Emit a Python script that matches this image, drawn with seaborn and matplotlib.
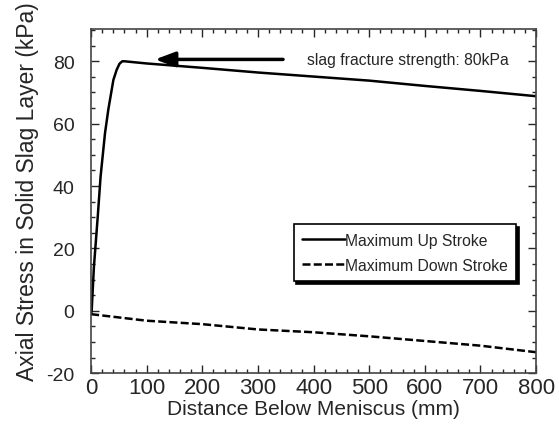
import matplotlib
matplotlib.use("Agg")
import matplotlib.pyplot as plt
from matplotlib.ticker import MultipleLocator
import seaborn as sns
import pandas as pd

# Maximum up stroke (kPa vs mm below meniscus)
up_x = [0, 1, 5, 12, 17, 25, 31, 40, 46, 51, 56, 60, 100, 200, 300, 400, 500, 600, 700, 800]
up_y = [-1.0, 0.0, 14, 30.4, 43, 57, 64.6, 74, 77.3, 79.2, 80, 80, 79.3, 77.9, 76.4, 75.1, 73.8, 72.1, 70.5, 68.8]

# Maximum down stroke
down_x = [0, 100, 200, 300, 400, 500, 600, 700, 800]
down_y = [-1.1, -3.2, -4.3, -6.0, -6.9, -8.2, -9.7, -11.2, -13.3]

df = pd.concat([
    pd.DataFrame({"x": up_x, "y": up_y, "series": "Maximum Up Stroke"}),
    pd.DataFrame({"x": down_x, "y": down_y, "series": "Maximum Down Stroke"}),
])

sns.set_style("ticks")
plt.rcParams["font.family"] = ["Liberation Sans", "DejaVu Sans"]
plt.rcParams["axes.unicode_minus"] = False

fig = plt.figure(figsize=(5.59, 4.31), dpi=100)
ax = fig.add_axes([0.163, 0.132, 0.796, 0.798])

sns.lineplot(data=df, x="x", y="y", style="series", color="black",
             dashes={"Maximum Up Stroke": "", "Maximum Down Stroke": (3.2, 1.3)},
             linewidth=1.8, sort=False, estimator=None, ax=ax)

ax.set_xlim(0, 800)
ax.set_ylim(-20, 90.3)
ax.xaxis.set_major_locator(MultipleLocator(100))
ax.xaxis.set_minor_locator(MultipleLocator(20))
ax.yaxis.set_major_locator(MultipleLocator(20))
ax.yaxis.set_minor_locator(MultipleLocator(5))
ax.tick_params(which="both", direction="in", top=True, right=True, width=1)
ax.tick_params(axis="x", labelsize=16, pad=2.5)
ax.tick_params(axis="y", labelsize=14, pad=12)
ax.tick_params(which="major", length=6)
ax.tick_params(which="minor", length=3)
for s in ax.spines.values():
    s.set_linewidth(1.2)
    s.set_color("#444444")

ax.set_xlabel("Distance Below Meniscus (mm)", fontsize=15, labelpad=1)
ax.set_ylabel("Axial Stress in Solid Slag Layer (kPa)", fontsize=16.5)
ax.yaxis.set_label_coords(-0.118, 0.53)

ax.annotate("", xy=(110, 80.6), xytext=(350, 80.6),
            arrowprops=dict(arrowstyle="-|>,head_length=1.2,head_width=0.45",
                            color="black", lw=2.5))
ax.text(389, 80.6, "slag fracture strength: 80kPa", fontsize=11.3, va="center")

leg = ax.legend(loc="center", bbox_to_anchor=(0.705, 0.35), fontsize=11.3,
                frameon=True, fancybox=False, edgecolor="black",
                shadow={"color": "black", "alpha": 1}, handlelength=2.7,
                handletextpad=0.0, borderpad=0.55, labelspacing=0.65)
leg.get_frame().set_linewidth(1.2)
leg.get_frame().set_alpha(1)

fig.savefig("out.png", dpi=100)
